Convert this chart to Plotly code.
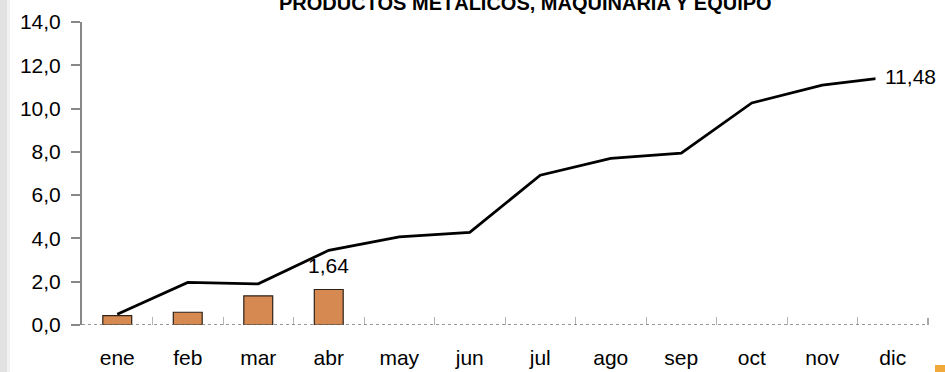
import plotly.graph_objects as go

# Monthly data: accumulated variation (line) and current-year months (bars)
months = ["ene", "feb", "mar", "abr", "may", "jun", "jul", "ago", "sep", "oct", "nov", "dic"]
line_values = [0.50, 1.97, 1.90, 3.45, 4.07, 4.28, 6.92, 7.70, 7.94, 10.26, 11.08, 11.48]
bar_months = ["ene", "feb", "mar", "abr"]
bar_values = [0.43, 0.59, 1.35, 1.64]
y_ticks = [0, 2, 4, 6, 8, 10, 12, 14]

title_text = "PRODUCTOS METÁLICOS, MAQUINARIA Y EQUIPO"
FONT = "Liberation Sans, Arial, sans-serif"

# plot area in pixels: x 82..928, y 22..325
L, R, T, B = 82, 17, 22, 47
W, H = 945, 372
PW, PH = W - L - R, H - T - B


def px(x):
    return (x - L) / PW


def py(y):
    return (H - B - y) / PH


def fmt(v):
    return f"{v:.2f}".replace(".", ",")


fig = go.Figure()

fig.add_trace(go.Bar(
    x=bar_months, y=bar_values,
    width=0.41,
    marker=dict(color="#D68A52", line=dict(color="#2e2218", width=1.2)),
    hoverinfo="skip",
))

fig.add_trace(go.Scatter(
    x=months, y=line_values,
    mode="lines",
    line=dict(color="black", width=2.8),
    hoverinfo="skip",
))

# Value labels: last bar and last point of the line
fig.add_annotation(x=bar_months[-1], y=bar_values[-1], text=fmt(bar_values[-1]),
                   showarrow=False, yanchor="bottom", yshift=11,
                   font=dict(family=FONT, size=21, color="black"))
fig.add_annotation(x=months[-1], y=line_values[-1], text=fmt(line_values[-1]),
                   showarrow=False, xanchor="center", xshift=18, yshift=0,
                   bgcolor="white", borderpad=9,
                   font=dict(family=FONT, size=21, color="black"))

# Title, partly clipped at the top edge
fig.add_annotation(xref="paper", yref="paper", x=px(525), y=1.0, yanchor="bottom", yshift=6,
                   text=f"<b>{title_text}</b>", showarrow=False,
                   font=dict(family=FONT, size=20, color="black"))

# Dotted category axis at zero, closed by a short solid tick
fig.add_shape(type="line", xref="paper", yref="y", x0=0, x1=1, y0=0, y1=0,
              line=dict(color="#777777", width=1.5, dash="dot"), layer="above")
fig.add_shape(type="line", xref="paper", yref="paper", x0=1, x1=1, y0=0, y1=7 / PH,
              line=dict(color="#888888", width=1.5))

# Left edge shadow and corner accent
fig.add_shape(type="rect", xref="paper", yref="paper", x0=px(0), x1=px(7), y0=py(373), y1=py(0),
              fillcolor="#e2e2e2", line=dict(width=0), layer="below")
fig.add_shape(type="rect", xref="paper", yref="paper", x0=px(7), x1=px(10), y0=py(373), y1=py(0),
              fillcolor="#f1f1f1", line=dict(width=0), layer="below")
fig.add_shape(type="rect", xref="paper", yref="paper", x0=px(935), x1=px(946),
              y0=py(373), y1=py(365), fillcolor="#F2A93B", line=dict(width=0))

fig.update_layout(
    width=W, height=H,
    margin=dict(l=L, r=R, t=T, b=B),
    plot_bgcolor="white", paper_bgcolor="white",
    showlegend=False,
    separators=",.",
    xaxis=dict(
        categoryorder="array", categoryarray=months,
        showline=False, showgrid=False, zeroline=False,
        ticks="inside", ticklen=8, tickcolor="#b5b5b5", tickwidth=1, tickson="boundaries",
        ticklabelstandoff=18, automargin=False,
        tickfont=dict(family=FONT, size=21, color="black"),
        range=[-0.5, 11.5],
    ),
    yaxis=dict(
        range=[0, 14], tickvals=y_ticks, tickformat=".1f",
        showline=True, linecolor="#888888", linewidth=2,
        ticks="outside", ticklen=9, tickcolor="#888888", tickwidth=2,
        ticklabelstandoff=6, automargin=False,
        showgrid=False, zeroline=False,
        tickfont=dict(family=FONT, size=21, color="black"),
    ),
)

fig.write_html("out.html")
